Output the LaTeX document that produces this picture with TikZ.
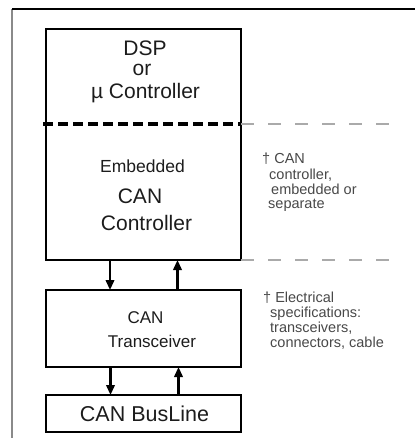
\documentclass[tikz,border=0pt]{standalone}
\usepackage{fontspec}
\setmainfont{Liberation Sans}
\usetikzlibrary{arrows.meta}
\definecolor{inkdark}{HTML}{1C1C1C}
\definecolor{notegray}{HTML}{484848}
\definecolor{guidegray}{HTML}{AAAAAA}
\definecolor{framegray}{HTML}{8A8A8A}
\tikzset{
  block/.style={draw=black, line width=2.9pt, rectangle, outer sep=0pt,
    minimum width=195pt, inner sep=0pt},
  label/.style={anchor=base, inner sep=0pt, text=inkdark},
  note/.style={anchor=base west, inner sep=0pt, text=notegray,
    font=\fontsize{14.5}{15}\selectfont},
  flow/.style={line width=2.1pt, -{Triangle[length=10pt,width=8.5pt]}},
  divider/.style={line width=3.2pt, dash pattern=on 10pt off 5pt},
  guide/.style={draw=guidegray, line width=1.4pt, dash pattern=on 13pt off 14pt},
}
\begin{document}
\begin{tikzpicture}[x=1pt,y=-1pt]
  \useasboundingbox (0,0) rectangle (415,438);
  % page frame
  \draw[framegray, line width=1.4pt] (12,438) -- (12,9);
  \draw[black, line width=1.4pt] (12,9) -- (415,9);

  % processor with embedded controller
  \node[block, minimum height=231pt] (mcu) at (143.5,144.5) {};
  \coordinate (div) at (143.5,124);
  \coordinate (guideend) at (392,124);
  \draw[divider] ([xshift=-3pt]mcu.west |- div) -- (mcu.east |- div);
  \draw[guide] (mcu.east |- div) -- (guideend);
  \draw[guide] (mcu.south east) -- (guideend |- mcu.south);

  \node[label, font=\fontsize{21}{24}\selectfont] (dsp) at (145,56) {DSP};
  \node[label, font=\fontsize{21}{24}\selectfont] (or) at (142,76) {or};
  \node[label, font=\fontsize{21}{24}\selectfont] (uc) at (145.5,99) {µ Controller};

  \node[label, font=\fontsize{17.5}{20}\selectfont] (emb) at (142.5,172.5) {Embedded};
  \node[label, font=\fontsize{21}{24}\selectfont] (can1) at (140,204) {CAN};
  \node[label, font=\fontsize{21}{24}\selectfont] (ctl) at (146.5,230) {Controller};

  % transceiver
  \node[block, minimum height=77pt] (xcvr) at (143.5,328.5) {};
  \node[label, font=\fontsize{17}{20}\selectfont] (can2) at (145.5,323) {CAN};
  \node[label, font=\fontsize{17}{20}\selectfont] (trx) at (152,347) {Transceiver};

  % bus line
  \node[block, minimum height=37pt] (bus) at (143.5,413.5) {};
  \node[label, font=\fontsize{21.5}{24}\selectfont] (busl) at (144.5,421)
    {CAN Bus\raisebox{-0.8pt}{Line}};

  % data paths
  \draw[flow] ([xshift=-33.5pt]mcu.south) -- ([xshift=-33.5pt]xcvr.north);
  \draw[flow] ([xshift=34pt]xcvr.north) -- ([xshift=34pt]mcu.south);
  \draw[flow] ([xshift=-33pt]xcvr.south) -- ([xshift=-33pt]bus.north);
  \draw[flow] ([xshift=35pt]bus.north) -- ([xshift=35pt]xcvr.south);

  % side notes
  \node[note] (n1a) at (262,164) {† CAN};
  \node[note] (n1b) at (269,179) {controller,};
  \node[note] (n1c) at (271,194) {embedded or};
  \node[note] (n1d) at (268,208.5) {separate};

  \node[note] (n2a) at (263,302) {† Electrical};
  \node[note] (n2b) at (270,317) {specifications:};
  \node[note] (n2c) at (270,332) {transceivers,};
  \node[note] (n2d) at (270,347) {connectors, cable};
\end{tikzpicture}
\end{document}
